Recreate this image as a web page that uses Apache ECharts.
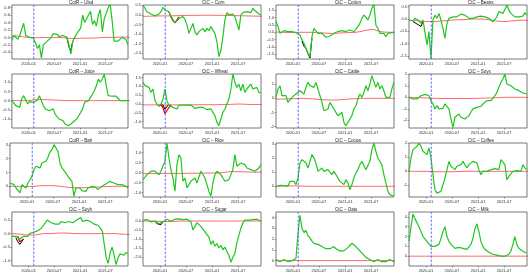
<!DOCTYPE html>
<html><head><meta charset="utf-8">
<script src="https://cdn.jsdelivr.net/npm/echarts@6/dist/echarts.min.js"></script>
<style>html,body{margin:0;padding:0;background:#fff}#c{width:532px;height:276px}</style>
</head><body><div id="c"></div>
<script>
const titles = ['CotR – Ulsd','CtC – Corn','CtC – Cotton','CtC – Beans','CotR – Juice','CtC – Wheat','CtC – Cattle','CtC – Soys','CotR – Bari','CtC – Rice','CtC – Cocoa','CtC – Coffee','CtC – Soyb','CtC – Sugar','CtC – Oats','CtC – Milk'];
const xTickLabels = ['2020-01','2020-07','2021-01','2021-07'];
const startDate = '2019-09-04', endDate = '2021-12-09', eventDate = '2020-02-07';
const stepDays = 14, redStepDays = 56;

const yRanges = [[-0.58,0.87],[-2.3,0.52],[-1.82,1.86],[-1.62,0.57],[-1.49,1.45],[-1.36,1.7],[-2.09,1.72],[-2.67,2.03],[-0.77,3.13],[-1.22,1.48],[-0.76,3.07],[-1.83,2.02],[-1.2,0.8],[-2.5,0.5],[-0.5,4.5],[-1.0,4.5]];
const yTicks = [[-0.4,-0.2,0,0.2,0.4,0.6,0.8],[-2,-1.5,-1,-0.5,0,0.5],[-1.5,-1,-0.5,0,0.5,1,1.5],[-1.5,-1,-0.5,0,0.5],[-1.5,-1,-0.5,0,0.5,1],[-1,-0.5,0,0.5,1,1.5],[-2,-1,0,1],[-2,-1,0,1,2],[0,1,2,3],[-1,-0.5,0,0.5,1],[0,1,2,3],[-1,0,1,2],[-1,-0.5,0,0.5],[-2,-1.5,-1,-0.5,0],[0,1,2,3,4],[0,1,2,3,4]];
const yDecimals = [1,1,1,1,1,1,0,0,0,1,0,0,1,1,0,0];

const g1 = [-0.07,0.05,0,-0.05,0.05,0,0.38,0.05,0.02,0,0,-0.02,-0.15,-0.3,-0.2,-0.55,-0.2,-0.15,-0.1,-0.05,0,0.1,0.05,0.08,0.02,0,0.05,0.1,0,-0.2,-0.45,-0.1,0,0.1,0.15,0.25,0.6,0.4,0.5,0.55,0.7,0.35,0.45,0.3,0.6,0.75,0.15,0.5,0.55,0.8,0.9,0.45,-0.1,-0.08,-0.1,-0.05,0,0.05,-0.05,-0.2];
const g2 = [0.52,0.5,0.17,0.09,0.05,0,-0.05,0,0.05,0.17,0.4,0.26,0.17,0.17,-0.09,-0.26,-0.4,-0.3,-0.17,-0.12,-0.09,-0.23,-0.52,-0.96,-0.7,-0.44,-0.87,-1.05,-0.87,-0.79,-0.7,-0.87,-0.7,-0.82,-0.61,-0.79,-0.96,-1.4,-2.18,-1.83,-1.14,-0.26,0.12,0,0.09,0.05,-0.09,-0.44,-0.79,0,0.12,0.09,0.17,0.09,0.12,0.35,0.23,0.17,0.05,0];
const g3 = [0.73,0.39,-0.07,0.05,0.11,0.16,0.05,-0.02,0.05,-0.07,-0.02,-0.07,-0.18,-0.52,-0.75,-0.86,-1.43,-1.66,-0.3,0.27,0.16,-0.07,0.05,-0.07,-0.18,-0.34,-0.3,-0.25,-0.18,-0.07,0,0.05,0.16,0.11,0.16,0.05,0.11,0.16,0.11,0.05,0.2,0.39,0.61,0.95,1.18,1.07,0.84,1.18,1.64,1.93,0.5,0.27,-0.07,-0.18,-0.07,-0.3,-0.07,0.05,-0.02,0];
const g4 = [-0.04,-0.11,-0.07,0.03,-0.04,-0.07,-0.18,-0.04,-0.07,-1.05,-0.51,-1.6,-0.04,0.16,0.03,0.23,-0.04,-0.38,-0.78,-0.18,0.03,0.09,0.09,0.07,0.09,0.12,0.2,0.26,0.16,0.09,0.03,0.03,0.03,0.05,0.09,0.09,0.12,0.16,0.09,0.07,0.03,-0.01,-0.11,-0.18,0.09,0.3,0.36,0.23,0.39,0.57,0.36,0.23,0.3,0.09,0.16,0.09,0.16,0.12,0.26,0.16];
const g5 = [0,-0.09,-0.27,-0.18,-0.36,0.09,0.27,0.31,-0.18,-0.05,0,-0.09,0,0.04,0.27,0,-0.27,-0.45,-0.36,-0.55,-0.64,-0.45,-0.73,-0.82,-1.0,-0.91,-1.09,-1.27,-1.18,-1.36,-1.45,-1.18,-1.27,-1.0,-0.82,-0.64,-0.45,-0.09,0,0,0.18,0.36,0.55,0.82,1.18,1.0,1.18,1.45,0.82,0.27,0.27,0.24,0.27,0.24,0.13,0,0.05,0,0.09,0];
const g6 = [1.23,1.04,1.13,0.94,0.66,0.85,0.19,0,-0.13,0,0.28,0.85,0.19,-0.09,0,-0.19,-0.13,-0.28,-0.06,-0.13,-0.06,0,-0.06,-0.09,-0.06,-0.13,-0.25,-0.28,-0.19,-0.28,-0.19,-0.25,-0.32,-0.43,-0.28,-0.38,-0.66,-1.04,-1.23,-0.85,-0.47,-0.28,0,0.28,0.85,1.7,1.23,0.94,1.13,0.75,1.13,0.66,0.85,0.94,1.13,0.85,0.75,0.94,0.66,0.62];
const g7 = [0.07,0.66,0.89,0.19,0.31,0.19,-0.28,-0.16,0.07,0.19,0.31,0.38,0.54,0.42,0.31,0.78,1.13,0.89,1.01,0.78,1.13,0.66,0.19,-0.28,-0.87,-0.99,-0.75,-0.28,-0.52,-0.4,-0.99,-1.22,-1.34,-0.99,-1.69,-1.93,-2.05,-1.46,-1.22,-0.75,-0.52,-0.05,0.31,0.07,0.42,0.89,0.54,1.01,1.6,1.72,0.78,1.13,0.66,0.89,0.54,0.07,0.19,0.07,0.66,1.13];
const g8 = [0,-0.06,-0.14,-0.2,-0.14,0,0.14,0.2,0.26,0.38,0.14,-0.29,-0.58,-1.01,-0.72,-1.01,-0.87,-0.96,-0.58,-0.43,-1.0,-1.88,-2.61,-1.74,-1.59,-1.45,-1.74,-1.59,-1.88,-1.74,-1.59,-1.3,-1.01,-1.16,-0.87,-0.72,-0.78,-0.58,-0.43,-0.29,-0.38,-0.29,-0.14,0.14,0.43,0.87,1.3,1.59,2.03,1.16,1.3,1.01,0.87,0.72,0.78,0.58,0.43,0.38,0.29,0.29];
const g9 = [0.24,0.36,0.12,-0.12,-0.24,-0.48,0.12,0,-0.12,0.24,0.36,0.72,1.2,1.45,1.57,1.33,1.69,1.76,1.81,2.1,2.48,2.65,3.01,2.89,2.53,1.69,1.33,1.2,0.96,0.72,0.6,0.36,-0.72,-0.12,-0.24,-0.12,-0.31,-0.24,-0.36,-0.12,-0.07,0,-0.12,-0.07,-0.24,-0.12,0,0.07,0.17,0.24,0.36,0.31,0.24,0.17,0.12,0.07,0.12,0.05,0,-0.12];
const g10 = [-0.35,-0.23,-0.1,-0.02,0.07,0.03,0.07,-0.02,-0.1,0.07,0.32,0.57,1.48,0.73,0.15,-0.27,-0.93,0.4,0.9,0.73,-0.43,-0.27,-0.77,-0.6,-0.43,-0.35,-0.27,-0.52,-0.6,0.07,-0.02,-0.27,-0.6,-0.93,-1.18,-0.52,-0.1,0.07,-0.02,-0.1,-0.27,-0.43,-0.52,-0.35,-0.1,0.15,0.9,0.32,0.23,0.48,0.43,0.4,0.23,0.32,0.15,0.15,0.07,0.15,0.23,0.4];
const g11 = [0,0.12,0.07,0.05,0.05,0.12,0,0.35,0.47,0.35,0.12,0.59,1.65,1.89,1.77,1.65,1.3,1.77,2.25,2.01,1.65,1.06,1.18,1.3,1.06,0.95,1.18,1.06,0.83,1.06,0.83,0.59,0.35,0.24,0.12,0.47,0.24,-0.24,0.12,0.59,0.95,1.18,1.54,1.77,1.65,1.18,1.06,1.77,2.6,3.07,2.48,2.01,2.13,1.54,0.83,0.24,-0.35,-0.59,-0.47,-0.71];
const g12 = [0,0.95,1.55,1.67,1.79,2.02,1.79,1.43,1.55,1.19,1.67,0.95,-0.24,-1.31,-1.55,-1.62,-1.43,-0.95,-0.48,0.12,0.71,0.36,0.24,0.12,0.36,0.24,0.48,0.71,0.6,0.24,0.48,0.36,0.71,0.83,0.6,0.12,-0.24,0,-0.12,0,0.05,0.12,0.12,0.19,0.24,0.12,0.83,0.95,0.48,-0.6,-0.36,-0.24,0,0.12,0.05,0.12,0,0.48,0.24,0.12];
const g13 = [-0.1,-0.05,-0.1,-0.15,-0.2,-0.15,-0.1,-0.05,-0.1,0,-0.05,0.05,0,0.1,0.15,0.2,0.3,0.35,0.5,0.45,0.4,0.45,0.35,0.4,0.35,0.45,0.5,0.4,0.35,0.45,0.5,0.4,0.35,0.5,0.55,0.6,0.45,0.4,0.5,0.55,0.45,0.4,0.35,0.4,0.3,0.35,0.1,-0.4,-0.9,-1.1,-0.7,-0.5,-0.8,-1.15,-0.9,-0.75,-0.7,-0.8,-0.7,-0.75];
const g14 = [0.05,0,0.08,0.02,-0.05,0.05,0,-0.1,-0.15,-0.12,-0.05,0.05,0.1,0.05,0,0.08,0.1,0.05,0.12,0.15,0.08,0.05,0.1,0.02,-0.05,-0.5,-0.3,-0.1,-0.05,-0.3,-0.45,-0.6,-0.55,-0.9,-1.3,-1.1,-1.4,-1.25,-1.5,-1.35,-1.6,-1.45,-1.7,-1.9,-2.3,-2.0,-1.8,-1.2,-0.8,-0.4,-0.1,0.05,0.1,0.05,0.12,0.08,0.05,0.1,0.05,0];
const g15 = [0.1,0,-0.1,0,0.1,0,-0.1,0,0,0.1,0.2,2.5,4.2,3.0,2.6,2.8,2.3,2.1,1.8,1.6,1.7,1.5,1.4,1.3,1.2,1.1,1.0,1.1,1.2,1.3,1.1,1.0,0.9,0.8,0.9,1.0,1.2,1.4,1.6,1.5,1.3,1.1,0.9,0.7,0.5,0.3,0.2,0.1,0,-0.1,0,0.1,0,-0.1,-0.2,-0.1,0,0.1,0,-0.1];
const g16 = [1.5,3.0,4.3,3.8,4.0,3.0,2.5,2.0,1.8,1.5,1.3,1.0,1.2,1.0,0.9,1.2,1.8,2.5,3.0,2.0,1.5,1.2,1.0,0.8,0.7,0.9,1.0,0.8,0.6,0.7,0.9,1.2,1.8,2.8,3.3,2.5,1.5,1.0,0.7,0.5,0.4,0.3,0.2,0.3,0.1,0.2,0,0.1,0,0.1,0.2,0.5,1.2,2.0,1.2,0.8,0.6,0.5,0.4,0.3];

const r1 = [0.05,0.03,0,-0.01,0,-0.01,0,-0.02,-0.03,-0.02,-0.02,-0.01,0,0,0.01,0];
const r2 = [-0.08,-0.06,-0.05,-0.05,-0.04,-0.03,-0.02,-0.02,-0.01,-0.02,-0.02,-0.03,-0.04,-0.05,-0.06,-0.07];
const r3 = [0.02,0,-0.02,0,0,-0.02,-0.05,-0.08,-0.05,-0.02,0,0.1,0.2,0.05,0,0];
const r4 = [-0.05,-0.07,-0.1,-0.1,-0.08,-0.05,-0.03,-0.02,0,0,-0.03,-0.08,-0.1,-0.07,-0.05,-0.05];
const r5 = [0.02,0,0,0.05,0.06,0.04,0.02,0,0,0,0,0,0,0,0,0];
const r6 = [-0.05,-0.05,-0.05,-0.05,-0.05,-0.05,-0.05,-0.04,-0.04,-0.04,-0.03,-0.02,0,-0.02,-0.03,-0.03];
const r7 = [-0.05,-0.05,-0.03,0,-0.02,-0.05,-0.1,-0.12,-0.1,-0.05,-0.02,0,0,0,0,0];
const r8 = [0,-0.02,-0.05,-0.08,-0.1,-0.1,-0.1,-0.1,-0.1,-0.08,-0.06,-0.03,0,0,0,0];
const r9 = [0,0,-0.02,0,0.05,0.05,0.02,-0.05,-0.1,-0.1,-0.08,-0.05,-0.02,0,0,0];
const r10 = [-0.05,-0.05,-0.05,-0.04,-0.04,-0.04,-0.03,-0.03,-0.02,-0.02,0,0.05,0.05,0.03,0.02,0.02];
const r11 = [0,0.02,0.03,0.02,0,0,0,0,0,0,0,0,0,0,0,0];
const r12 = [0,0,0,-0.02,-0.03,-0.03,-0.02,0,0,0,0,0,0,0,0,0];
const r13 = [0,-0.02,-0.05,-0.05,0,0,0.02,0.02,0,0,0,0,0,0,-0.02,-0.03];
const r14 = [0,0,-0.02,-0.03,-0.02,0,0,0,0,0,0,0,0,0,0,0];
const r15 = [0,0,0,0,0,0,0,0,0,0,0,0,0,0,0,0];
const r16 = [0,0,0,0,0,0,0,0,0,0,0,0,0,0,0,0];

// black segments where the black series departs visibly from green
const k1 = {from: 28, v: [0, -0.25, -0.35, -0.1]};
const k2 = {from: 13, v: [0.15, -0.1, -0.3, -0.42, -0.34, -0.2]};
const k3 = {from: 13, v: [-0.6, -0.95, -1.1, -1.45, -1.75, -0.4]};
const k4 = {from: 2, v: [-0.1, -0.15, -0.2, -0.25, -0.3, -0.1]};
const k6 = {from: 8, v: [-0.1, -0.15, -0.05, -0.3, -0.2, 0]};
const k13 = {from: 2, v: [-0.15, -0.3, -0.4, -0.35, -0.2]};
const k14 = {from: 6, v: [0, -0.15, -0.25, -0.2, -0.05]};
// red segments departing from the smooth red line
const rx2 = {from: 14, v: [-0.06, -0.28, -0.42, -0.32, -0.1]};
const rx6 = {from: 9, v: [-0.05, -0.2, -0.55, -0.6, -0.2, -0.05]};
const rx13 = {from: 3, v: [-0.1, -0.3, -0.35, -0.2]};

const greens = [g1,g2,g3,g4,g5,g6,g7,g8,g9,g10,g11,g12,g13,g14,g15,g16];
const reds = [r1,r2,r3,r4,r5,r6,r7,r8,r9,r10,r11,r12,r13,r14,r15,r16];
const blacks = {0:k1,1:k2,2:k3,3:k4,5:k6,12:k13,13:k14};
const redExtras = {1:rx2,5:rx6,12:rx13};

function dayOf(s){const p=s.split('-').map(Number);return (Date.UTC(p[0],p[1]-1,p[2]||1)-Date.UTC(2019,8,4))/86400000;}
const x0 = dayOf(startDate), x1 = dayOf(endDate), xEvent = dayOf(eventDate);
const xTickVals = xTickLabels.map(dayOf);

const grid=[],xAxis=[],yAxis=[],series=[],graphic=[];
const CW=133, CH=69;
for(let p=0;p<16;p++){
  const c=p%4, r=Math.floor(p/4), ox=c*CW, oy=r*CH;
  grid.push({left:ox+10, top:oy+5, width:118, height:54, show:true, borderColor:'#555', borderWidth:0.8, backgroundColor:'#fff'});
  xAxis.push({type:'value', gridIndex:p, min:x0, max:x1, splitLine:{show:false},
    axisLine:{show:false, onZero:false},
    axisTick:{show:true, customValues:xTickVals, length:1.5, inside:false, lineStyle:{color:'#555',width:0.6}},
    axisLabel:{customValues:xTickVals, formatter:v=>xTickLabels[xTickVals.indexOf(v)]||'', fontSize:4, color:'#333', margin:2.5, fontFamily:'Liberation Sans'}});
  const d=yDecimals[p];
  yAxis.push({type:'value', gridIndex:p, min:yRanges[p][0], max:yRanges[p][1], splitLine:{show:false},
    axisLine:{show:false, onZero:false},
    axisTick:{show:true, customValues:yTicks[p], length:1.5, lineStyle:{color:'#555',width:0.6}},
    axisLabel:{customValues:yTicks[p], formatter:v=>v.toFixed(d), fontSize:4, color:'#333', margin:2, fontFamily:'Liberation Sans'}});
  graphic.push({type:'text', left:ox+69, top:oy+0.3, style:{text:titles[p], fontSize:4.5, fill:'#222', font:'4.5px Liberation Sans', textAlign:'center'}});
  if(blacks[p]){
    const b=blacks[p];
    series.push({type:'line', xAxisIndex:p, yAxisIndex:p, symbol:'none', silent:true, z:2,
      lineStyle:{color:'#000', width:1}, data:b.v.map((v,i)=>[x0+(b.from+i)*stepDays, v])});
  }
  series.push({type:'line', xAxisIndex:p, yAxisIndex:p, symbol:'none', silent:true, z:3, smooth:0.3,
    lineStyle:{color:'rgba(255,40,40,0.7)', width:1}, data:reds[p].map((v,i)=>[x0+i*redStepDays, v])});
  if(redExtras[p]){
    const e=redExtras[p];
    series.push({type:'line', xAxisIndex:p, yAxisIndex:p, symbol:'none', silent:true, z:3,
      lineStyle:{color:'#e00', width:1.2}, data:e.v.map((v,i)=>[x0+(e.from+i)*stepDays, v])});
  }
  series.push({type:'line', xAxisIndex:p, yAxisIndex:p, symbol:'none', silent:true, z:4,
    lineStyle:{color:'#1ec81e', width:1.2}, data:greens[p].map((v,i)=>[x0+i*stepDays, v])});
  // event marker: vertical dashed blue line spanning the panel's y range
  series.push({type:'line', xAxisIndex:p, yAxisIndex:p, symbol:'none', silent:true, z:5,
    lineStyle:{color:'#5c5cff', width:0.9, type:[2.5,1.5]}, data:[[xEvent, yRanges[p][0]],[xEvent, yRanges[p][1]]]});
}
const chart=echarts.init(document.getElementById('c'),null,{renderer:'canvas'});
chart.setOption({animation:false, backgroundColor:'#fff', grid, xAxis, yAxis, series, graphic});
</script></body></html>
